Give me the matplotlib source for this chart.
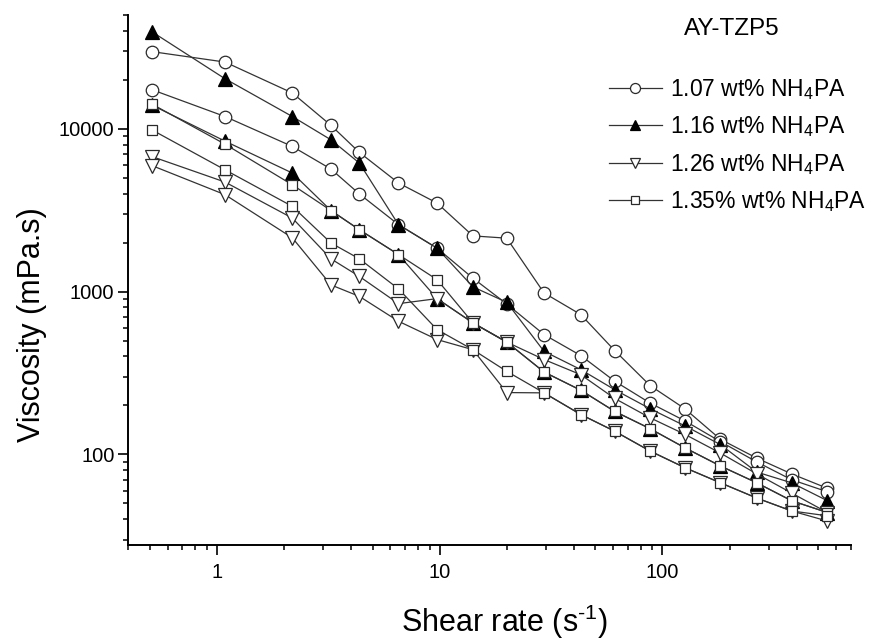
import matplotlib
matplotlib.use("Agg")
import matplotlib.pyplot as plt
from matplotlib.ticker import LogLocator, FixedLocator, FixedFormatter, NullFormatter

plt.rcParams.update({
    "font.family": "Liberation Sans",
    "mathtext.fontset": "custom",
    "mathtext.rm": "Liberation Sans",
})

# shear rate (1/s), shared by all sweeps
shear_rate = [0.51, 1.087, 2.18, 3.25, 4.36, 6.53, 9.73, 14.1, 20.0, 29.4,
              43.0, 61.0, 88.0, 126, 182, 265, 380, 550]

# viscosity (mPa.s), two sweeps per NH4PA content
visc_107_a = [29800, 25700, 16600, 10500, 7160, 4650, 3500, 2200, 2130, 982,
              723, 435, 265, 191, 124, 95, 76, 62]
visc_107_b = [17400, 11900, 7790, 5660, 3980, 2580, 1850, 1210, 840, 545,
              405, 282, 207, 161, 120, 90, 70, 59]
visc_116_a = [39500, 20300, 11900, 8560, 6160, 2580, 1850, 1070, 860, 430,
              332, 250, 191, 150, 115, 78, 67, 52]
visc_116_b = [14000, 8400, 5350, 3150, 2400, 1690, 906, 643, 490, 321,
              248, 184, 144, 110, 85, 67, 52, 44]
visc_126_a = [6760, 4710, 2830, 1590, 1240, 844, 906, 643, 490, 383,
              309, 221, 168, 133, 102, 76, 58, 44]
visc_126_b = [5950, 3940, 2140, 1100, 935, 658, 508, 440, 240, 239,
              176, 139, 105, 83, 67, 54, 45, 39]
visc_135_a = [14200, 8050, 4530, 3150, 2400, 1690, 1185, 643, 490, 321,
              248, 184, 144, 110, 85, 67, 52, 44]
visc_135_b = [9860, 5600, 3340, 1990, 1590, 1040, 585, 440, 324, 239,
              176, 139, 105, 83, 67, 54, 45, 42]

labels = ["1.07 wt% NH$\\mathregular{_4}$PA", "1.16 wt% NH$\\mathregular{_4}$PA",
          "1.26 wt% NH$\\mathregular{_4}$PA", "1.35% wt% NH$\\mathregular{_4}$PA"]
series = [(visc_107_a, visc_107_b), (visc_116_a, visc_116_b),
          (visc_126_a, visc_126_b), (visc_135_a, visc_135_b)]
markers = ["o", "^", "v", "s"]
faces = ["white", "black", "white", "white"]
sizes = [9, 9.5, 9.5, 7.5]

fig = plt.figure(figsize=(8.72, 6.43), dpi=100)
ax = fig.add_axes([128.3/872, 1 - 544.5/643, (850.7 - 128.3)/872, (544.5 - 15)/643])

handles = []
for (ya, yb), m, fc, ms, lab in zip(series, markers, faces, sizes, labels):
    for y in (ya, yb):
        h, = ax.plot(shear_rate, y, color="#333333", lw=0.9, marker=m, ms=ms,
                     mfc=fc, mec="#2a2a2a" if fc == "white" else "black", mew=0.9)
    handles.append((h, lab))

ax.set_xscale("log")
ax.set_yscale("log")
ax.set_xlim(0.4, 700)
ax.set_ylim(28, 50000)

ax.xaxis.set_major_locator(FixedLocator([1, 10, 100]))
ax.xaxis.set_major_formatter(FixedFormatter(["1", "10", "100"]))
ax.xaxis.set_minor_locator(LogLocator(base=10, subs=range(2, 10), numticks=20))
ax.xaxis.set_minor_formatter(NullFormatter())
ax.yaxis.set_major_locator(FixedLocator([100, 1000, 10000]))
ax.yaxis.set_major_formatter(FixedFormatter(["100", "1000", "10000"]))
ax.yaxis.set_minor_locator(LogLocator(base=10, subs=range(2, 10), numticks=20))
ax.yaxis.set_minor_formatter(NullFormatter())

for side in ["top", "right"]:
    ax.spines[side].set_visible(False)
for side in ["left", "bottom"]:
    ax.spines[side].set_linewidth(1.4)
ax.tick_params(which="major", direction="out", length=7, width=1.2, labelsize=14.5)
ax.tick_params(axis="y", which="major", pad=3)
ax.tick_params(axis="x", which="major", pad=6)
ax.tick_params(which="minor", direction="out", length=3.8, width=1.1)

ax.set_xlabel("Shear rate (s$^{\\mathregular{\u20101}}$)", fontsize=22)
ax.xaxis.set_label_coords(0.52, -0.11)
ax.set_ylabel("Viscosity (mPa.s)", fontsize=22)
ax.yaxis.set_label_coords(-0.112, 0.415)

leg = ax.legend([h for h, _ in handles], [l for _, l in handles],
                loc="upper left", bbox_to_anchor=(609/872, 1 - 77/643),
                bbox_transform=fig.transFigure, frameon=False, fontsize=16.5,
                handlelength=2.3, handletextpad=0.35, labelspacing=0.55,
                borderpad=0, borderaxespad=0, markerscale=0.8)

fig.text(732/872, 1 - 29/643, "AY-TZP5", fontsize=17.5, ha="center", va="center")

fig.savefig("out.png", dpi=100)
